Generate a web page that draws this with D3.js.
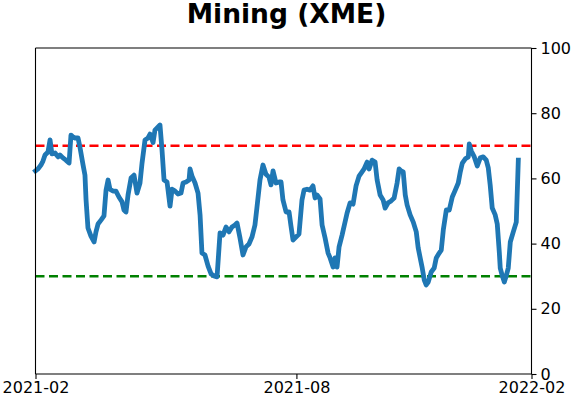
<!DOCTYPE html>
<html>
<head>
<meta charset="utf-8">
<script src="https://cdn.jsdelivr.net/npm/d3@7"></script>
<style>
  html, body { margin: 0; padding: 0; background: #fff; }
  svg { display: block; }
  text { font-family: "DejaVu Sans", sans-serif; }
</style>
</head>
<body>
<div id="chart"></div>
<script>
// ---- data ----
const title = "Mining (XME)";
const startDate = "2021-02-01";
const endDate = "2022-02-01";
// days since startDate
const dayOffsets = [
  0, 1.8, 4.0, 5.5, 7.0, 9.2, 10.7, 12.1, 14.4, 16.6, 18.0, 20.2, 22.4, 24.7, 26.1, 27.6, 29.1, 31.3, 32.7, 35.0,
  36.4, 37.2, 38.6, 40.8, 43.1, 44.5, 46.0, 48.2, 50.4, 51.9, 53.4, 54.8, 57.0, 59.2, 61.4, 63.7, 65.1, 66.6, 68.1, 70.3,
  72.5, 74.7, 76.9, 78.4, 80.6, 82.8, 84.3, 86.5, 87.9, 90.2, 91.6, 93.1, 94.6, 96.8, 99.0, 100.5, 102.7, 104.9, 107.1, 108.6,
  110.8, 113.0, 113.7, 115.2, 117.4, 119.6, 121.1, 122.5, 124.7, 127.0, 129.2, 131.4, 133.6, 135.8, 138.0, 140.2, 142.4, 144.6, 146.8, 148.3,
  150.5, 152.7, 154.9, 157.1, 159.3, 161.5, 163.0, 165.2, 167.4, 169.6, 171.8, 173.3, 174.8, 177.0, 179.2, 180.7, 182.1, 184.4, 186.6, 188.0,
  189.5, 191.7, 193.9, 196.1, 197.6, 199.8, 202.0, 204.2, 205.7, 207.2, 209.4, 210.9, 213.1, 215.3, 216.8, 219.0, 220.4, 221.9, 223.4, 225.6,
  227.8, 229.3, 231.5, 233.7, 235.9, 238.1, 240.3, 241.8, 244.0, 245.5, 247.7, 249.9, 251.4, 253.6, 255.8, 257.3, 259.5, 261.7, 263.9, 266.1,
  267.6, 269.1, 270.6, 272.1, 273.5, 275.7, 278.0, 280.2, 281.6, 283.1, 284.6, 286.1, 287.5, 289.0, 291.2, 293.4, 294.9, 297.1, 298.6, 300.1,
  302.3, 304.5, 306.7, 308.9, 311.1, 312.6, 314.1, 316.3, 318.5, 319.2, 320.7, 322.9, 325.1, 327.3, 329.5, 331.7, 333.2, 334.6, 336.1, 338.3,
  339.8, 341.3, 342.0, 343.5, 345.0, 346.4, 347.9, 349.4, 351.6, 353.8, 355.3
];
const values = [
  62.3, 62.9, 64.1, 65.3, 67.2, 68.1, 71.8, 67.5, 67.8, 66.6, 67.2, 66.3, 65.6, 64.7, 73.3, 72.7, 72.4, 72.4, 69.6, 64.1,
  61.0, 53.4, 44.8, 42.3, 40.5, 43.6, 46.0, 47.2, 48.5, 56.4, 59.5, 56.7, 56.1, 56.1, 54.3, 52.8, 50.3, 49.7, 54.9, 60.1,
  61.0, 55.5, 58.6, 64.7, 71.8, 72.4, 73.6, 71.0, 74.8, 75.8, 76.4, 68.7, 59.5, 58.9, 51.5, 56.7, 56.1, 55.2, 55.5, 58.6,
  58.9, 59.5, 62.9, 60.7, 58.6, 55.5, 48.8, 37.1, 36.5, 33.1, 30.7, 30.1, 29.8, 43.3, 42.6, 45.1, 43.6, 45.1, 45.7, 46.3,
  41.7, 36.5, 39.0, 39.9, 42.0, 45.7, 51.2, 59.5, 64.1, 61.3, 60.4, 58.0, 62.3, 58.6, 58.9, 58.9, 53.4, 49.7, 49.7, 45.4,
  41.1, 42.0, 42.9, 53.4, 56.4, 56.7, 56.4, 57.7, 54.0, 54.9, 53.7, 45.7, 41.7, 37.1, 35.6, 32.8, 35.6, 32.8, 39.0, 42.6,
  46.6, 49.4, 52.5, 52.1, 57.7, 60.7, 62.0, 62.9, 65.0, 62.9, 65.6, 65.0, 59.5, 54.9, 53.4, 50.9, 52.5, 53.1, 54.0, 58.6,
  62.9, 62.3, 62.0, 54.9, 51.8, 48.8, 46.6, 43.6, 38.7, 35.6, 32.5, 28.8, 27.3, 28.2, 31.3, 32.5, 35.6, 37.1, 38.0, 44.2,
  50.3, 50.3, 54.3, 56.4, 58.6, 62.0, 64.7, 66.0, 66.6, 70.6, 68.4, 66.6, 63.8, 66.3, 66.6, 65.6, 63.2, 58.0, 50.9, 48.8,
  46.0, 37.4, 32.5, 30.1, 28.2, 30.1, 32.5, 40.5, 43.6, 46.6, 65.6
];
const upperLevel = 70;
const lowerLevel = 30;
const yTicks = [0, 20, 40, 60, 80, 100];
const xTickDates = ["2021-02-01", "2021-08-12", "2022-02-01"];
const xTickLabels = ["2021-02", "2021-08", "2022-02"];

// ---- layout ----
const W = 572, H = 402;
const margin = { top: 48, right: 40.5, bottom: 28, left: 35.5 };
const iw = W - margin.left - margin.right;
const ih = H - margin.top - margin.bottom;

const parse = d3.utcParse("%Y-%m-%d");
const t0 = parse(startDate), t1 = parse(endDate);
const data = dayOffsets.map((d, i) => ({ date: new Date(t0.getTime() + d * 864e5), value: values[i] }));

const x = d3.scaleUtc().domain([t0, t1]).range([0, iw]);
const y = d3.scaleLinear().domain([0, 100]).range([ih, 0]);

const svg = d3.select("#chart").append("svg").attr("width", W).attr("height", H);

svg.append("text")
  .attr("x", W / 2 + 0.5).attr("y", 23)
  .attr("text-anchor", "middle")
  .attr("font-size", 26.5).attr("font-weight", "bold")
  .attr("fill", "#000")
  .text(title);

const g = svg.append("g").attr("transform", `translate(${margin.left},${margin.top})`);

// reference lines
g.append("line")
  .attr("x1", 0).attr("x2", iw)
  .attr("y1", y(upperLevel)).attr("y2", y(upperLevel))
  .attr("stroke", "#ff0000").attr("stroke-width", 2.5).attr("stroke-dasharray", "9,4.5");
g.append("line")
  .attr("x1", 0).attr("x2", iw)
  .attr("y1", y(lowerLevel)).attr("y2", y(lowerLevel))
  .attr("stroke", "#008000").attr("stroke-width", 2.5).attr("stroke-dasharray", "9,4.5");

// series line
const line = d3.line().x(d => x(d.date)).y(d => y(d.value));
g.append("path").datum(data)
  .attr("d", line)
  .attr("fill", "none")
  .attr("stroke", "#1f77b4")
  .attr("stroke-width", 4.8)
  .attr("stroke-linejoin", "round")
  .attr("stroke-linecap", "square");

// frame (left, right, top, bottom)
const frame = g.append("g").attr("stroke", "#000").attr("stroke-width", 1.1);
frame.append("line").attr("x1", 0).attr("x2", 0).attr("y1", 0).attr("y2", ih);
frame.append("line").attr("x1", iw).attr("x2", iw).attr("y1", 0).attr("y2", ih);
frame.append("line").attr("x1", 0).attr("x2", iw).attr("y1", 0).attr("y2", 0);
frame.append("line").attr("x1", 0).attr("x2", iw).attr("y1", ih).attr("y2", ih);

// right y axis
const yAxis = d3.axisRight(y).tickValues(yTicks).tickSize(5).tickPadding(4);
const ya = g.append("g").attr("transform", `translate(${iw},0)`).call(yAxis);
ya.select(".domain").remove();
ya.selectAll("text").attr("font-size", 16).attr("font-family", "DejaVu Sans").attr("fill", "#000");
ya.selectAll("line").attr("stroke", "#000").attr("stroke-width", 1.1);

// bottom x axis
const xAxis = d3.axisBottom(x)
  .tickValues(xTickDates.map(parse))
  .tickFormat((d, i) => xTickLabels[i])
  .tickSize(5).tickPadding(3);
const xa = g.append("g").attr("transform", `translate(0,${ih})`).call(xAxis);
xa.select(".domain").remove();
xa.selectAll("text").attr("font-size", 16).attr("font-family", "DejaVu Sans").attr("fill", "#000");
xa.selectAll("line").attr("stroke", "#000").attr("stroke-width", 1.1);
</script>
</body>
</html>
